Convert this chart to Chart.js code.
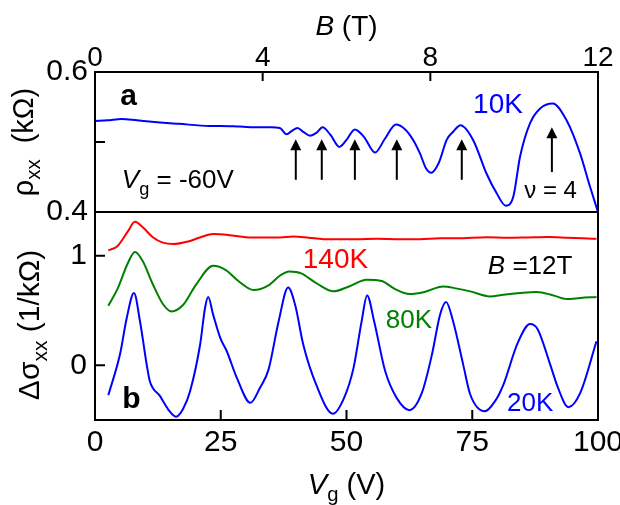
<!DOCTYPE html>
<html>
<head>
<meta charset="utf-8">
<script src="https://cdn.jsdelivr.net/npm/chart.js@4.4.0/dist/chart.umd.min.js"></script>
<style>
  html, body { margin: 0; padding: 0; background: #fff; }
  #grafico { display: block; }
</style>
</head>
<body>
<canvas id="grafico" width="620" height="505"></canvas>
<script>
// painel a: rho_xx em funcao de B (10K, Vg = -60V)
const campoB = [0, 0.3, 0.64, 1.0, 1.55, 2.0, 2.74, 3.0, 3.46, 3.94, 4.2, 4.41, 4.57, 4.70, 4.83, 4.98, 5.13, 5.28, 5.43, 5.62, 5.83, 6.0, 6.20, 6.42, 6.68, 6.92, 7.18, 7.40, 7.59, 7.75, 7.9, 8.02, 8.2, 8.39, 8.55, 8.72, 9.02, 9.34, 9.58, 9.80, 9.98, 10.14, 10.38, 10.62, 10.92, 11.25, 11.57, 11.81, 12.0];
const rho10K = [0.530, 0.531, 0.533, 0.531, 0.528, 0.526, 0.523, 0.523, 0.522, 0.521, 0.521, 0.520, 0.511, 0.516, 0.520, 0.514, 0.509, 0.513, 0.521, 0.510, 0.493, 0.503, 0.518, 0.507, 0.485, 0.505, 0.525, 0.518, 0.503, 0.484, 0.462, 0.456, 0.470, 0.503, 0.515, 0.524, 0.503, 0.455, 0.427, 0.409, 0.422, 0.479, 0.527, 0.548, 0.555, 0.531, 0.484, 0.436, 0.400];

// setas (posicao em B, ponta e base em rho)
const setaB = [4.79, 5.41, 6.20, 7.20, 8.75, 10.90];
const setaPonta = [0.504, 0.504, 0.504, 0.504, 0.504, 0.521];
const setaBase = [0.446, 0.446, 0.446, 0.446, 0.446, 0.457];

// painel b: delta sigma_xx em funcao de Vg (B = 12T)
const vg140K = [2.65, 4.5, 6.5, 7.95, 9.5, 11.5, 13.5, 15.6, 18.5, 21, 23.5, 26.5, 30, 32.8, 36.8, 39.4, 42.5, 45.4, 49, 52.7, 56, 60, 64.6, 68.6, 72, 77.9, 82, 86, 90, 94, 97, 99.7];
const sigma140K = [1.05, 1.09, 1.22, 1.31, 1.26, 1.17, 1.12, 1.107, 1.13, 1.17, 1.198, 1.19, 1.17, 1.167, 1.167, 1.176, 1.165, 1.152, 1.15, 1.152, 1.155, 1.152, 1.152, 1.16, 1.16, 1.17, 1.165, 1.168, 1.172, 1.165, 1.16, 1.155];

const vg80K = [2.65, 4.5, 6.5, 7.95, 9.5, 11.5, 13.5, 15.2, 17.5, 20, 23.5, 26, 28.5, 31.5, 34.5, 36.8, 38.6, 41, 44, 47.4, 50.5, 54.0, 57, 59.5, 62.6, 65.5, 69.2, 72, 74.6, 78.5, 81.2, 84.5, 87.8, 91, 93.8, 96.5, 99.7];
const sigma80K = [0.544, 0.70, 0.93, 1.034, 0.95, 0.74, 0.56, 0.492, 0.55, 0.73, 0.909, 0.87, 0.77, 0.687, 0.73, 0.82, 0.857, 0.84, 0.75, 0.675, 0.72, 0.781, 0.77, 0.70, 0.651, 0.67, 0.72, 0.70, 0.675, 0.629, 0.645, 0.66, 0.669, 0.64, 0.605, 0.615, 0.624];

const vg20K = [2.65, 4.97, 6.3, 7.75, 8.95, 10.3, 10.9, 12.9, 14.5, 16.1, 17.5, 18.9, 20.9, 21.9, 22.5, 23.5, 24.9, 26.2, 28.2, 30.9, 32.8, 34.5, 36.5, 38.4, 39.8, 41.4, 44, 47.3, 49.5, 51.4, 53, 54.1, 55.5, 57.7, 60, 62.5, 65, 67, 68.6, 69.8, 71.2, 73.2, 74.6, 77.5, 79.5, 81.2, 84, 86.5, 88, 90.5, 92, 94.1, 96.5, 99.7];
const sigma20K = [-0.273, 0.10, 0.43, 0.66, 0.40, 0.0, -0.146, -0.28, -0.40, -0.47, -0.40, -0.237, 0.19, 0.53, 0.623, 0.46, 0.25, 0.128, -0.115, -0.343, -0.206, -0.04, 0.40, 0.711, 0.55, 0.189, -0.18, -0.443, -0.30, -0.024, 0.40, 0.638, 0.40, -0.055, -0.30, -0.41, -0.25, 0.10, 0.462, 0.578, 0.40, 0.006, -0.267, -0.42, -0.33, -0.176, 0.20, 0.377, 0.33, 0.006, -0.20, -0.383, -0.25, 0.219];

// ticks dos eixos
const ticksB = [0, 4, 8, 12];
const ticksVg = [0, 25, 50, 75, 100];
const ticksRho = [0.4, 0.5, 0.6];
const ticksSigma = [0, 1];

const FONTE = '"Liberation Sans", Arial, Helvetica, sans-serif';
Chart.defaults.font.family = FONTE;
Chart.defaults.color = '#000';

function pontos(xs, ys) {
    return xs.map((x, i) => ({ x: x, y: ys[i] }));
}

// textos dentro dos paineis (posicao em coordenadas dos dados)
const textos = [
    { eixos: ['xB', 'yR'], x: 0.60, y: 0.553, cor: '#000', partes: [{ t: 'a', p: 'bold', s: 30 }] },
    { eixos: ['xB', 'yR'], x: 9.02, y: 0.541, cor: '#0000ff', partes: [{ t: '10K', s: 28 }] },
    { eixos: ['xB', 'yR'], x: 0.64, y: 0.434, cor: '#000', partes: [{ t: 'V', p: 'italic', s: 26 }, { t: 'g', s: 26, sub: true }, { t: ' = -60V', s: 26 }] },
    { eixos: ['xB', 'yR'], x: 10.24, y: 0.420, cor: '#000', partes: [{ t: 'ν = 4', s: 24 }] },
    { eixos: ['xV', 'yS'], x: 5.4, y: -0.386, cor: '#000', partes: [{ t: 'b', p: 'bold', s: 30 }] },
    { eixos: ['xV', 'yS'], x: 41.3, y: 0.89, cor: '#ff0000', partes: [{ t: '140K', s: 28 }] },
    { eixos: ['xV', 'yS'], x: 57.8, y: 0.344, cor: '#008000', partes: [{ t: '80K', s: 26 }] },
    { eixos: ['xV', 'yS'], x: 78.1, y: 0.836, cor: '#000', partes: [{ t: 'B', p: 'italic', s: 26 }, { t: ' =12T', s: 26 }] },
    { eixos: ['xV', 'yS'], x: 81.9, y: -0.42, cor: '#0000ff', partes: [{ t: '20K', s: 26 }] }
];

function fonte(parte) {
    const s = parte.sub ? parte.s * 0.7 : parte.s;
    return (parte.p || 'normal') + ' ' + s + 'px ' + FONTE;
}

// escreve texto com italico / subscrito
function textoRico(ctx, x, y, partes, alinhamento) {
    let largura = 0;
    partes.forEach(p => { ctx.font = fonte(p); largura += ctx.measureText(p.t).width; });
    let cx = alinhamento === 'center' ? x - largura / 2 : x;
    ctx.textAlign = 'left';
    ctx.textBaseline = 'alphabetic';
    partes.forEach(p => {
        ctx.font = fonte(p);
        ctx.fillText(p.t, cx, p.sub ? y + p.s * 0.25 : y);
        cx += ctx.measureText(p.t).width;
    });
}

const moldura = {
    id: 'moldura',
    afterDatasetsDraw(chart) {
        const ctx = chart.ctx;
        const a = chart.chartArea;
        const s = chart.scales;
        ctx.save();
        ctx.strokeStyle = '#000';
        ctx.fillStyle = '#000';
        ctx.lineWidth = 2;
        ctx.strokeRect(a.left, a.top, a.right - a.left, a.bottom - a.top);
        // linha entre os dois paineis
        ctx.beginPath();
        ctx.moveTo(a.left, s.yS.top);
        ctx.lineTo(a.right, s.yS.top);
        ctx.stroke();

        // ticks para dentro
        ctx.beginPath();
        ticksB.forEach(v => { const px = s.xB.getPixelForValue(v); ctx.moveTo(px, a.top); ctx.lineTo(px, a.top + 9); });
        ticksVg.forEach(v => { const px = s.xV.getPixelForValue(v); ctx.moveTo(px, a.bottom); ctx.lineTo(px, a.bottom - 10); });
        ticksRho.forEach(v => { const py = s.yR.getPixelForValue(v); ctx.moveTo(a.left, py); ctx.lineTo(a.left + 10, py); });
        ticksSigma.forEach(v => { const py = s.yS.getPixelForValue(v); ctx.moveTo(a.left, py); ctx.lineTo(a.left + 10, py); });
        ctx.stroke();

        // setas
        setaB.forEach((b, i) => {
            const px = s.xB.getPixelForValue(b);
            const pt = s.yR.getPixelForValue(setaPonta[i]);
            const pb = s.yR.getPixelForValue(setaBase[i]);
            ctx.beginPath();
            ctx.moveTo(px, pb);
            ctx.lineTo(px, pt + 8);
            ctx.stroke();
            ctx.beginPath();
            ctx.moveTo(px, pt);
            ctx.lineTo(px - 5.5, pt + 11);
            ctx.lineTo(px + 5.5, pt + 11);
            ctx.closePath();
            ctx.fill();
        });

        // textos
        textos.forEach(t => {
            ctx.fillStyle = t.cor;
            textoRico(ctx, s[t.eixos[0]].getPixelForValue(t.x), s[t.eixos[1]].getPixelForValue(t.y), t.partes, 'left');
        });

        // titulos dos eixos
        ctx.fillStyle = '#000';
        textoRico(ctx, (a.left + a.right) / 2, 35, [{ t: 'B', p: 'italic', s: 28 }, { t: ' (T)', s: 28 }], 'center');
        textoRico(ctx, (a.left + a.right) / 2, 494, [{ t: 'V', p: 'italic', s: 29 }, { t: 'g', s: 29, sub: true }, { t: ' (V)', s: 29 }], 'center');

        ctx.translate(33, (s.yR.top + s.yR.bottom) / 2);
        ctx.rotate(-Math.PI / 2);
        textoRico(ctx, 0, 0, [{ t: 'ρ', s: 29 }, { t: 'xx', s: 29, sub: true }, { t: '  (kΩ)', s: 29 }], 'center');
        ctx.rotate(Math.PI / 2);
        ctx.translate(-33, -(s.yR.top + s.yR.bottom) / 2);

        ctx.translate(39, 325);
        ctx.rotate(-Math.PI / 2);
        textoRico(ctx, 0, 0, [{ t: 'Δσ', s: 30 }, { t: 'xx', s: 30, sub: true }, { t: ' (1/kΩ)', s: 30 }], 'center');
        ctx.restore();
    }
};

const estiloLinha = { borderWidth: 2, pointRadius: 0, cubicInterpolationMode: 'monotone', fill: false };

// sem margem extra para os rotulos das pontas
function semMargem(sc, altura) {
    sc.height = altura;
    sc.paddingLeft = 0;
    sc.paddingRight = 0;
}

new Chart(document.getElementById('grafico').getContext('2d'), {
    type: 'line',
    data: {
        datasets: [
            Object.assign({ label: '10K', data: pontos(campoB, rho10K), borderColor: '#0000ff', xAxisID: 'xB', yAxisID: 'yR' }, estiloLinha),
            Object.assign({ label: '140K', data: pontos(vg140K, sigma140K), borderColor: '#ff0000', xAxisID: 'xV', yAxisID: 'yS' }, estiloLinha),
            Object.assign({ label: '80K', data: pontos(vg80K, sigma80K), borderColor: '#008000', xAxisID: 'xV', yAxisID: 'yS' }, estiloLinha),
            Object.assign({ label: '20K', data: pontos(vg20K, sigma20K), borderColor: '#0000ff', xAxisID: 'xV', yAxisID: 'yS' }, estiloLinha)
        ]
    },
    options: {
        responsive: false,
        animation: false,
        layout: { padding: { left: 0, right: 22, top: 0, bottom: 0 } },
        plugins: { legend: { display: false }, tooltip: { enabled: false } },
        scales: {
            xB: {
                type: 'linear', position: 'top', min: 0, max: 12,
                afterBuildTicks: sc => { sc.ticks = ticksB.map(v => ({ value: v })); },
                ticks: { font: { size: 28 }, padding: -3, maxRotation: 0, autoSkip: false },
                grid: { display: false, drawTicks: false }, border: { display: false },
                afterFit: sc => semMargem(sc, 72)
            },
            xV: {
                type: 'linear', position: 'bottom', min: 0, max: 100,
                afterBuildTicks: sc => { sc.ticks = ticksVg.map(v => ({ value: v })); },
                ticks: { font: { size: 30 }, padding: 5, maxRotation: 0, autoSkip: false },
                grid: { display: false, drawTicks: false }, border: { display: false },
                afterFit: sc => semMargem(sc, 85)
            },
            yR: {
                type: 'linear', position: 'left', stack: 'paineis', stackWeight: 140, weight: 1,
                min: 0.4, max: 0.6,
                afterBuildTicks: sc => { sc.ticks = ticksRho.map(v => ({ value: v })); },
                ticks: { font: { size: 30 }, padding: 7, callback: v => (Math.abs(v - 0.5) < 1e-6 ? '' : v.toFixed(1)) },
                grid: { display: false, drawTicks: false }, border: { display: false },
                afterFit: sc => { sc.width = 95; sc.paddingTop = 0; sc.paddingBottom = 0; }
            },
            yS: {
                type: 'linear', position: 'left', stack: 'paineis', stackWeight: 208, weight: 0,
                min: -0.5, max: 1.4,
                afterBuildTicks: sc => { sc.ticks = ticksSigma.map(v => ({ value: v })); },
                ticks: { font: { size: 30 }, padding: 8, callback: v => String(v) },
                grid: { display: false, drawTicks: false }, border: { display: false },
                afterFit: sc => { sc.width = 95; sc.paddingTop = 0; sc.paddingBottom = 0; }
            }
        }
    },
    plugins: [moldura]
});
</script>
</body>
</html>
